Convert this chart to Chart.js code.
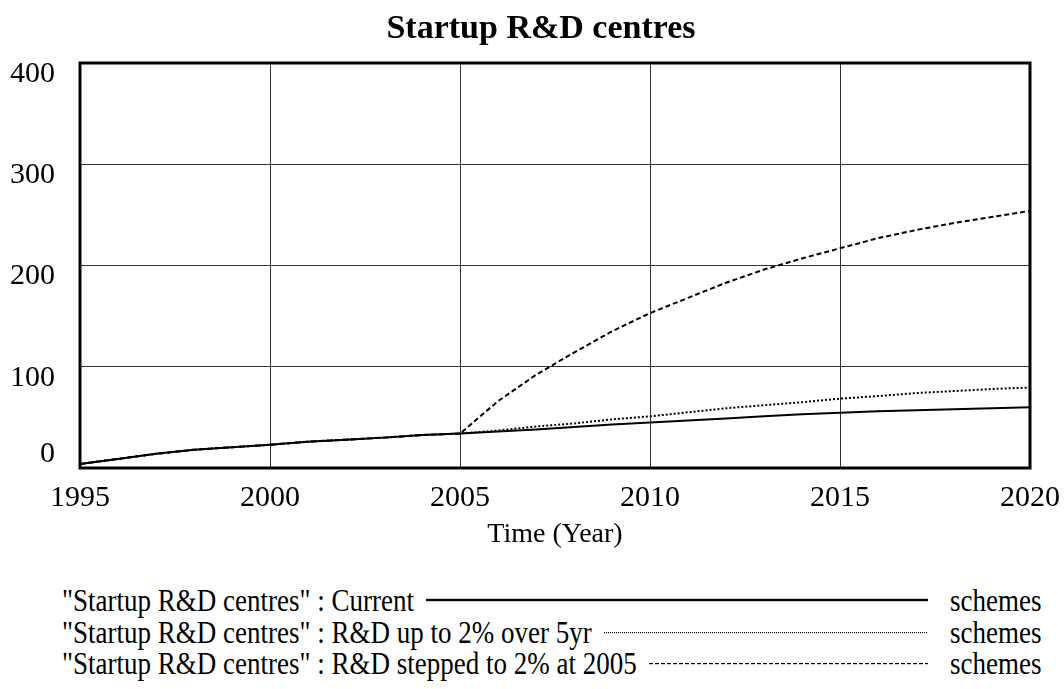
<!DOCTYPE html>
<html>
<head>
<meta charset="utf-8">
<script src="https://cdn.jsdelivr.net/npm/chart.js@4/dist/chart.umd.min.js"></script>
<style>
  body { margin: 0; background: #fff; }
  #wrap { position: relative; width: 1064px; height: 689px; }
  #chart { position: absolute; left: 0; top: 0; }
  .row {
    position: absolute; left: 62px; width: 986px; height: 30px;
    display: flex; align-items: center;
    font-family: 'Liberation Serif', serif; font-size: 27px; color: #000;
    transform: scaleY(1.2); white-space: nowrap;
  }
  .row .sample { flex: 1; margin: 0 22px 0 12px; }
  .row .unit { width: 98px; }
  .solid { height: 1.5px; background: #000; }
  .dotted { height: 1px; background: repeating-linear-gradient(to right, #000 0 1px, transparent 1px 2px); }
  .dashed { height: 1px; background: repeating-linear-gradient(to right, #000 0 4px, transparent 4px 6px); }
</style>
</head>
<body>
<div id="wrap">
  <canvas id="chart" width="1064" height="560"></canvas>
  <div id="legend"></div>
</div>
<script>
// Time axis (years) and the three runs
const years = [1995, 1996, 1997, 1998, 1999, 2000, 2001, 2002, 2003, 2004, 2005, 2006, 2007,
               2008, 2009, 2010, 2011, 2012, 2013, 2014, 2015, 2016, 2017, 2018, 2019, 2020];
const current = [4, 9, 14, 18, 20.5, 23, 26, 28, 30, 32.5, 34, 36, 38,
                 40.5, 43, 45, 47, 49, 51, 53, 54.5, 56, 57, 58, 59, 60];
const upTo2pct = [4, 9, 14, 18, 20.5, 23, 26, 28, 30, 32.5, 34, 37, 41,
                  44, 48, 51, 55, 59, 62, 65, 68.5, 71, 74, 76, 78, 79.5];
const stepped2pct = [4, 9, 14, 18, 20.5, 23, 26, 28, 30, 32.5, 34, 66, 92,
                     114, 135, 153, 168, 183, 196, 207, 217, 227, 235, 242, 248, 254];
const yTicks = [0, 100, 200, 300, 400];
const seriesNames = ['"Startup R&D centres" : Current',
                     '"Startup R&D centres" : R&D up to 2% over 5yr',
                     '"Startup R&D centres" : R&D stepped to 2% at 2005'];
const units = 'schemes';
const chartTitle = 'Startup R&D centres';

const FONT = 'Liberation Serif';

function pts(vals) {
    return years.map((y, i) => ({ x: y, y: vals[i] }));
}

// title sits a bit right of the canvas centre, like the original
const titlePlugin = {
    id: 'titleText',
    afterDraw(chart) {
        const ctx = chart.ctx;
        ctx.save();
        ctx.font = 'bold 34px "' + FONT + '"';
        ctx.fillStyle = '#000';
        ctx.textAlign = 'center';
        ctx.textBaseline = 'alphabetic';
        ctx.fillText(chartTitle, 541, 38);
        ctx.restore();
    }
};

// y labels sit a little below their grid line (the 0 one above the axis)
const yLabels = {
    id: 'yLabels',
    afterDraw(chart) {
        const ctx = chart.ctx;
        const ys = chart.scales.y;
        ctx.save();
        ctx.font = '30px "' + FONT + '"';
        ctx.fillStyle = '#000';
        ctx.textAlign = 'right';
        ctx.textBaseline = 'middle';
        yTicks.forEach(v => {
            const py = ys.getPixelForValue(v);
            ctx.fillText(String(v), 55, v === 0 ? py - 14 : py + 11);
        });
        ctx.restore();
    }
};

// thick frame round the plot area
const frame = {
    id: 'frame',
    afterDatasetsDraw(chart) {
        const a = chart.chartArea;
        const ctx = chart.ctx;
        ctx.save();
        ctx.lineWidth = 3;
        ctx.strokeStyle = '#000';
        ctx.strokeRect(a.left, a.top, a.right - a.left, a.bottom - a.top);
        ctx.restore();
    }
};

const ctx = document.getElementById('chart').getContext('2d');
new Chart(ctx, {
    type: 'line',
    data: {
        datasets: [{
            label: seriesNames[0],
            data: pts(current),
            borderColor: '#000',
            borderWidth: 2
        }, {
            label: seriesNames[1],
            data: pts(upTo2pct),
            borderColor: '#000',
            borderWidth: 2,
            borderDash: [2, 2]
        }, {
            label: seriesNames[2],
            data: pts(stepped2pct),
            borderColor: '#000',
            borderWidth: 2,
            borderDash: [5, 3]
        }]
    },
    options: {
        responsive: false,
        animation: false,
        layout: { padding: { left: 0, right: 34, top: 63, bottom: 0 } },
        elements: { point: { radius: 0 }, line: { tension: 0 } },
        plugins: {
            legend: { display: false },
            tooltip: { enabled: false },
            title: { display: false }
        },
        scales: {
            x: {
                type: 'linear',
                min: 1995,
                max: 2020,
                afterFit: s => {
                    s.height = 92;
                    s.paddingLeft = 0;
                    s.paddingRight = 0;
                },
                ticks: {
                    stepSize: 5,
                    padding: 12,
                    color: '#000',
                    maxRotation: 0,
                    font: { family: FONT, size: 30 },
                    callback: v => String(v)
                },
                grid: { color: '#333', lineWidth: 1, drawTicks: false },
                border: { display: false },
                title: {
                    display: true,
                    text: 'Time (Year)',
                    color: '#000',
                    font: { family: FONT, size: 28 },
                    padding: { top: 9, bottom: 9 }
                }
            },
            y: {
                min: 0,
                max: 400,
                afterFit: s => { s.width = 80; },
                ticks: { stepSize: 100, display: false },
                grid: { color: '#333', lineWidth: 1, drawTicks: false },
                border: { display: false }
            }
        }
    },
    plugins: [titlePlugin, yLabels, frame]
});

// legend rows: name, line sample, units
const legend = document.getElementById('legend');
const sampleCls = ['solid', 'dotted', 'dashed'];
const rowCentres = [600, 632, 663];
seriesNames.forEach((name, i) => {
    const row = document.createElement('div');
    row.className = 'row';
    row.style.top = (rowCentres[i] - 15) + 'px';
    const lab = document.createElement('span');
    lab.textContent = name;
    const line = document.createElement('span');
    line.className = 'sample ' + sampleCls[i];
    const u = document.createElement('span');
    u.className = 'unit';
    u.textContent = units;
    row.appendChild(lab);
    row.appendChild(line);
    row.appendChild(u);
    legend.appendChild(row);
});
</script>
</body>
</html>
